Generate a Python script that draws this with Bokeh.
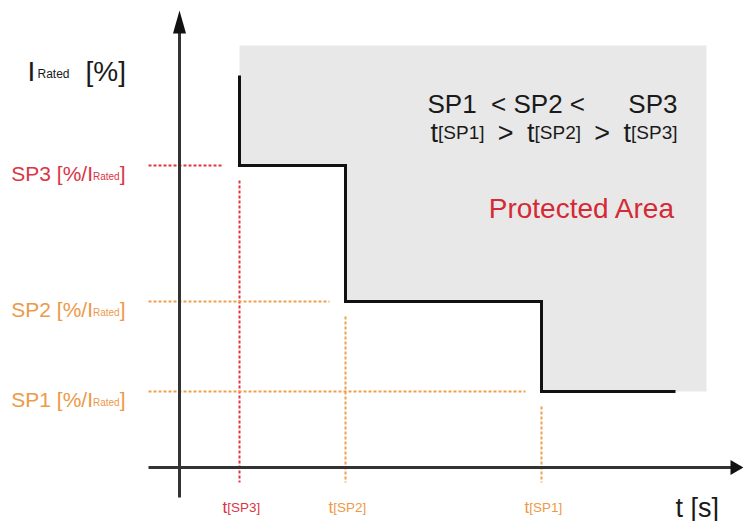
from bokeh.plotting import figure
from bokeh.models import Range1d
from bokeh.core.properties import value
from bokeh.embed import file_html
from bokeh.resources import INLINE

# ---- data (schematic units: 1 unit ~ 1 px, origin at axis crossing) ----
sp_names = ["SP3", "SP2", "SP1"]
t_sp = [60, 166, 362]          # trip times t[SP3], t[SP2], t[SP1]
i_sp = [302, 166, 76]          # set-point currents SP3, SP2, SP1
i_top = 392                    # top of curve
t_end = 496                    # end of curve
area_top = 422                 # top of protected area
area_right = 527               # right edge of protected area
sp_colors = ["#dc3545", "#ec9a48", "#ec9a48"]
line_colors = ["#e3343f", "#f0a04c", "#f0a04c"]

FONT = "Liberation Sans"
NB = "\u00a0"
AW = {'R': 722, 'a': 556, 't': 278, 'e': 556, 'd': 556, 'S': 667, 'P': 667,
      '1': 556, '2': 556, '3': 556, ' ': 278, NB: 278, '[': 278, ']': 278, '%': 889,
      '/': 278, 'I': 278, '<': 584, '>': 584, 's': 500}


def tw(s, size):
    return sum(AW.get(c, 556) for c in s) * size / 1000.0


p = figure(width=743, height=521, output_backend="svg", toolbar_location=None,
           x_range=Range1d(-179, 564), y_range=Range1d(-54, 467),
           min_border=0, outline_line_color=None)
p.axis.visible = False
p.grid.visible = False
p.background_fill_color = "white"
p.border_fill_color = "white"


def txt(x, y, s, size, color="#1a1a1a", align="left"):
    p.text(x=[x], y=[y], text=[s], text_font=value(FONT),
           text_font_size=value(f"{size}px"), text_color=color,
           text_align=align, text_baseline="alphabetic")


# protected area (follows the step curve)
ax = [t_sp[0], area_right, area_right, t_sp[2], t_sp[2], t_sp[1], t_sp[1], t_sp[0]]
ay = [area_top, area_top, i_sp[2], i_sp[2], i_sp[1], i_sp[1], i_sp[0], i_sp[0]]
p.patch(ax, ay, fill_color="#e8e8e8", line_color=None)

# dashed guide lines
for t, i, c in zip(t_sp, i_sp, line_colors):
    p.line([-31, t - 16], [i, i], line_color=c, line_width=2, line_dash="3 2")
    p.line([t, t], [i - 15, -15], line_color=c, line_width=2, line_dash="3 2")

# axes with arrows
p.line([-31, 553], [0, 0], line_color="#333333", line_width=3)
p.line([0, 0], [-30, 436], line_color="#333333", line_width=3)
p.patch([551, 564, 551], [7.5, 0, -7.5], fill_color="#111111", line_color=None)
p.patch([-6.5, 0, 6.5], [434, 457, 434], fill_color="#111111", line_color=None)

# step curve
sx = [t_sp[0], t_sp[0], t_sp[1], t_sp[1], t_sp[2], t_sp[2], t_end]
sy = [i_top, i_sp[0], i_sp[0], i_sp[1], i_sp[1], i_sp[2], i_sp[2]]
p.line(sx, sy, line_color="#111111", line_width=3, line_join="miter")

# y axis title: I_Rated [%]
txt(-152, 396, "I", 28)
txt(-142, 394, "Rated", 12)
txt(-94, 396, "[%]", 28)

# SP labels on the left
right = -54
for n, i, c in zip(sp_names, i_sp, sp_colors):
    fm, fs = 21, 10
    x2 = right - tw("]", fm)
    x1 = x2 - tw("Rated", fs)
    txt(right, i - 8, "]", fm, c, "right")
    txt(x2, i - 11, "Rated", fs, c, "right")
    txt(x1, i - 8, n + " [%/I", fm, c, "right")

# t labels under the time axis
for n, t, c in zip(sp_names, t_sp, sp_colors):
    x0 = t - 17
    txt(x0, -40, "t", 17, c)
    txt(x0 + tw("t", 17), -40, "[" + n + "]", 13.5, c)

# x axis title
txt(496, -40, "t [s]", 27)

# relations block
txt(248, 364, "SP1" + NB + NB + "<" + NB + "SP2" + NB + "<", 26)
txt(498, 364, "SP3", 26, align="right")
ft, fsub = 27, 19
order = ["SP1", "SP2", "SP3"]
width_parts = 3 * (tw("t", ft) + tw("[SP1]", fsub))
gap = (498 - 251 - width_parts) / 2.0
x = 251
for k, n in enumerate(order):
    txt(x, 335, "t", ft)
    x += tw("t", ft)
    txt(x, 335, "[" + n + "]", fsub)
    x += tw("[" + n + "]", fsub)
    if k < 2:
        txt(x + gap / 2.0, 335, ">", ft, align="center")
        x += gap

txt(496, 259, "Protected Area", 28, "#d42a35", "right")

open("out.html", "w").write(file_html(p, INLINE))
